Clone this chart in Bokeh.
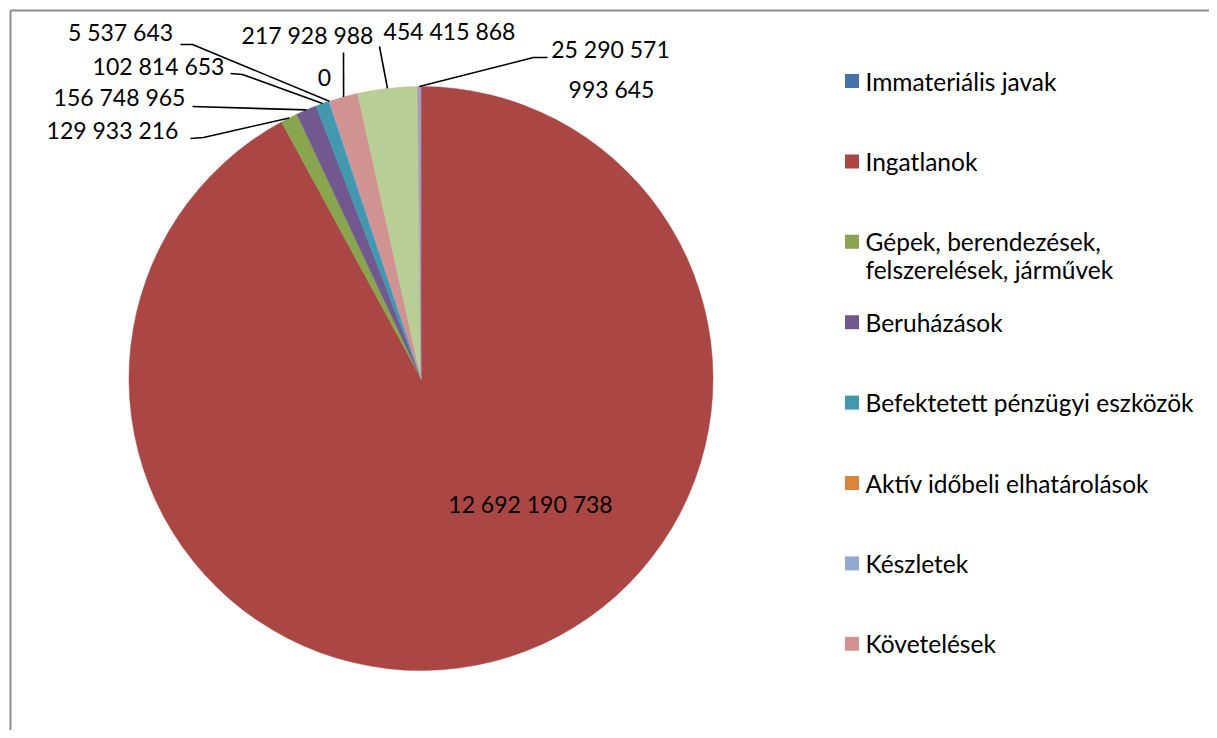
import math
from bokeh.plotting import figure
from bokeh.models import Range1d, ColumnDataSource
from bokeh.core.properties import value
from bokeh.embed import file_html
from bokeh.resources import INLINE

# ---------------- data ----------------
legend_names = [
    "Immateriális javak",
    "Ingatlanok",
    "Gépek, berendezések,\nfelszerelések, járművek",
    "Beruházások",
    "Befektetett pénzügyi eszközök",
    "Aktív időbeli elhatárolások",
    "Készletek",
    "Követelések",
]
values = [993645, 12692190738, 129933216, 156748965, 102814653, 0,
          5537643, 217928988, 454415868, 25290571]
colors = ["#4572A7", "#AA4643", "#89A54E", "#71588F", "#4198AF", "#DB843D",
          "#93A9CF", "#D19392", "#B9CD96", "#A99BBD"]

# ---------------- layout (screen px) ----------------
W, H = 1209, 730
CX, CY, R = 420.5, 378, 292
FONT = "Lato"
LAB_FS = "23px"
LEG_FS = "24.5px"
# label centers and leader start points (screen coords)
label_pos = [(611, 88), (530, 503), (112, 129), (119, 96), (158, 65), (324, 77),
             (120, 31), (307, 34), (449, 30), (610, 48)]
leader_pts = [None, None, [(190, 138), (203, 137)], [(192, 106)],
              [(230, 73), (242, 74)], None, [(180, 44), (192, 44)],
              [(343, 52)], [(379, 46)], [(547, 57), (533, 57)]]
legend_sq_x = 851.5
legend_txt_x = 865
legend_y0 = 80.5
legend_dy = 80.4
line_gap = 28


def sy(y):
    return H - y


p = figure(width=W, height=H, output_backend="svg", toolbar_location=None,
           x_range=Range1d(0, W), y_range=Range1d(0, H))
p.axis.visible = False
p.grid.visible = False
p.outline_line_color = None
p.min_border = 0
p.background_fill_color = "white"
p.border_fill_color = "white"

# chart border (cropped chart area frame)
p.line([10, 10, W], [sy(H), sy(10), sy(10)], line_color="#8c8c8c", line_width=2)

# ---------------- pie ----------------
total = float(sum(values))
starts, ends, mids, cols = [], [], [], []
acc = 0.0
for v, c in zip(values, colors):
    t0 = acc / total * 2 * math.pi
    acc += v
    t1 = acc / total * 2 * math.pi
    mids.append((t0 + t1) / 2)
    if v > 0:
        starts.append(math.pi / 2 - t1)
        ends.append(math.pi / 2 - t0)
        cols.append(c)

src = ColumnDataSource(dict(start=starts, end=ends, color=cols,
                            x=[CX] * len(cols), y=[sy(CY)] * len(cols)))
p.wedge(x="x", y="y", radius=R, start_angle="start", end_angle="end",
        fill_color="color", line_color="color", line_width=0.5, source=src)

# leader lines
xs, ys = [], []
for i, pts in enumerate(leader_pts):
    if not pts:
        continue
    ex = CX + R * math.sin(mids[i])
    ey = CY - R * math.cos(mids[i])
    xs.append([q[0] for q in pts] + [ex])
    ys.append([sy(q[1]) for q in pts] + [sy(ey)])
p.multi_line(xs, ys, line_color="black", line_width=1.6)

# data labels
lab_txt = [f"{v:,}".replace(",", " ") for v in values]
p.text(x=[q[0] for q in label_pos], y=[sy(q[1]) for q in label_pos], text=lab_txt,
       text_align="center", text_baseline="middle", text_color="black",
       text_font=value(FONT), text_font_size=LAB_FS)

# ---------------- legend ----------------
sq_y, tx, ty, tt = [], [], [], []
for i, name in enumerate(legend_names):
    yc = legend_y0 + legend_dy * i
    sq_y.append(sy(yc))
    for k, line in enumerate(name.split("\n")):
        tx.append(legend_txt_x)
        ty.append(sy(yc + k * line_gap))
        tt.append(line)
p.rect(x=[legend_sq_x] * len(legend_names), y=sq_y, width=14, height=14,
       fill_color=colors[:len(legend_names)], line_color=None)
p.text(x=tx, y=ty, text=tt, text_align="left", text_baseline="middle",
       text_color="black", text_font=value(FONT), text_font_size=LEG_FS)

open("out.html", "w").write(file_html(p, INLINE))
